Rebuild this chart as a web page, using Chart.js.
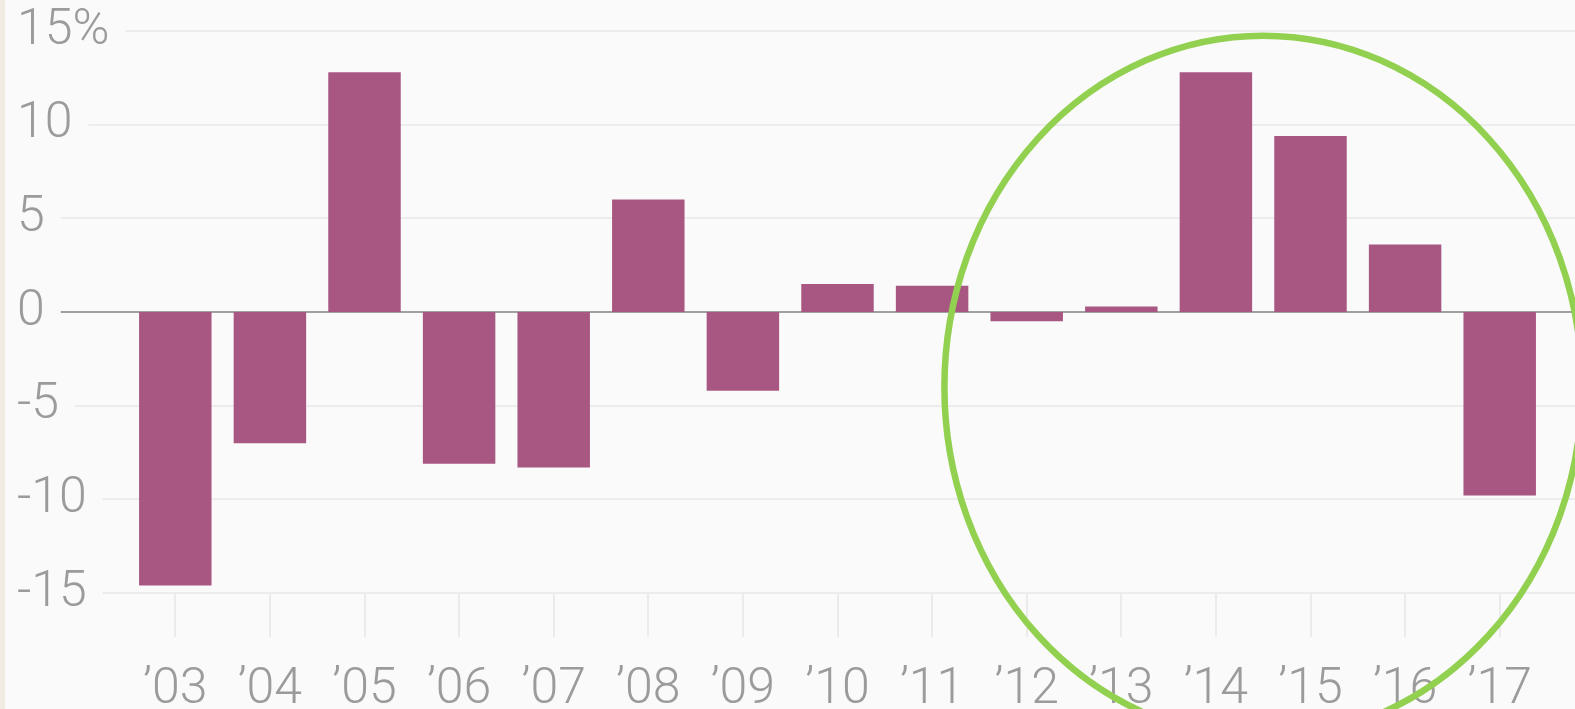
<!DOCTYPE html>
<html>
<head>
<meta charset="utf-8">
<script src="https://cdn.jsdelivr.net/npm/chart.js"></script>
<style>
html, body { margin: 0; padding: 0; background: #fafafa; overflow: hidden; }
#wrap { width: 1575px; height: 709px; }
</style>
</head>
<body>
<div id="wrap"><canvas id="barChart" width="1575" height="709"></canvas></div>
<script>
// yearly values, in %
let years = ['’03', '’04', '’05', '’06', '’07', '’08', '’09', '’10', '’11', '’12', '’13', '’14', '’15', '’16', '’17'];
let returns = [-14.6, -7.0, 12.8, -8.1, -8.3, 6.0, -4.2, 1.5, 1.4, -0.5, 0.3, 12.8, 9.4, 3.6, -9.8];
let yTicks = [-15, -10, -5, 0, 5, 10, 15];
let yTickLabels = ['-15', '-10', '-5', '0', '5', '10', '15%'];

let labelFont = { family: 'Roboto', size: 50, weight: '300' };
let labelColor = '#9b9b9b';

// background, the long horizontal grid lines and the circle
let decor = {
    id: 'decor',
    beforeDraw(chart) {
        let ctx = chart.ctx;
        ctx.save();
        ctx.fillStyle = '#fafafa';
        ctx.fillRect(0, 0, chart.width, chart.height);
        ctx.fillStyle = '#efebe3';
        ctx.fillRect(0, 0, 5, chart.height);
        ctx.restore();
    },
    beforeDatasetsDraw(chart) {
        let ctx = chart.ctx;
        let y = chart.scales.y;
        ctx.save();
        ctx.font = '300 50px Roboto';
        yTicks.forEach((v, i) => {
            let py = Math.round(y.getPixelForValue(v));
            let start = 17 + ctx.measureText(yTickLabels[i]).width + 16;
            ctx.beginPath();
            ctx.strokeStyle = v === 0 ? '#a0a0a0' : '#ececec';
            ctx.lineWidth = 2;
            ctx.moveTo(start, py);
            ctx.lineTo(chart.width, py);
            ctx.stroke();
        });
        ctx.restore();
    },
    afterDraw(chart) {
        let ctx = chart.ctx;
        let x = chart.scales.x, y = chart.scales.y;
        let step = x.getPixelForValue(1) - x.getPixelForValue(0);
        let cx = x.getPixelForValue(0) + 11.5 * step;
        let cy = y.getPixelForValue(-4);
        let rx = 3.37 * step;
        let ry = y.getPixelForValue(0) - y.getPixelForValue(18.75);
        ctx.save();
        ctx.beginPath();
        ctx.strokeStyle = '#92d050';
        ctx.lineWidth = 6.5;
        ctx.ellipse(cx, cy, rx, ry, 0, 0, Math.PI * 2);
        ctx.stroke();
        ctx.restore();
    }
};

let ctx = document.getElementById('barChart').getContext('2d');

let barChart = new Chart(ctx, {
    type: 'bar',
    data: {
        labels: years,
        datasets: [
            {
                data: returns,
                backgroundColor: '#a85782',
                borderWidth: 0,
                barPercentage: 0.766,
                categoryPercentage: 1
            }
        ]
    },
    options: {
        responsive: false,
        animation: false,
        devicePixelRatio: 1,
        layout: { padding: { top: 31, left: 17, right: 28, bottom: 0 } },
        plugins: { legend: { display: false }, tooltip: { enabled: false } },
        scales: {
            x: {
                border: { display: false },
                grid: {
                    offset: false,
                    drawOnChartArea: false,
                    drawTicks: true,
                    tickLength: 44,
                    color: '#ebebeb',
                    lineWidth: 2
                },
                ticks: {
                    font: labelFont,
                    color: labelColor,
                    padding: 23,
                    autoSkip: false,
                    maxRotation: 0
                },
                afterFit(scale) { scale.height = 116; }
            },
            y: {
                min: -15,
                max: 15,
                border: { display: false },
                grid: { display: false },
                ticks: {
                    stepSize: 5,
                    font: labelFont,
                    color: labelColor,
                    crossAlign: 'far',
                    padding: 0,
                    callback: (value, index) => yTickLabels[index]
                },
                afterFit(scale) { scale.width = 111; }
            }
        }
    },
    plugins: [decor]
});
</script>
</body>
</html>
